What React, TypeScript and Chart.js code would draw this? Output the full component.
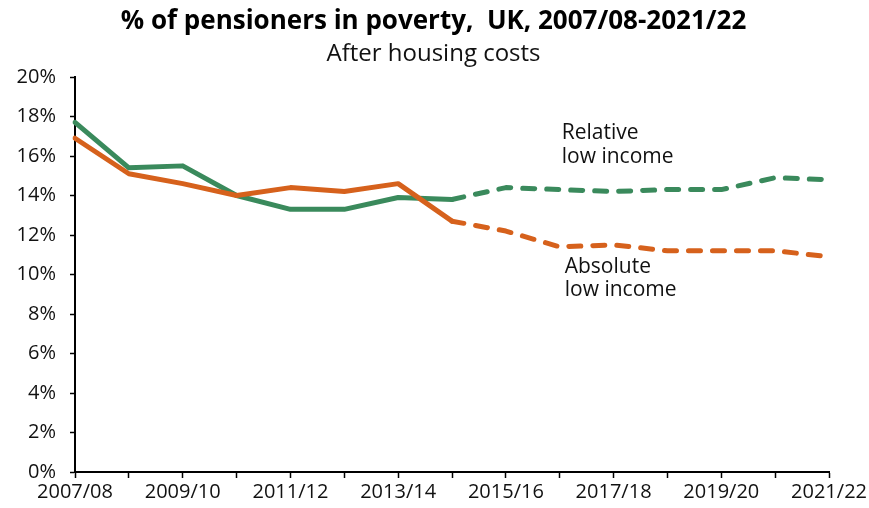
import React, { useEffect, useRef } from 'react';
import { Chart, registerables } from 'chart.js';

Chart.register(...registerables);

const years = [
  '2007/08', '2008/09', '2009/10', '2010/11', '2011/12', '2012/13', '2013/14', '2014/15',
  '2015/16', '2016/17', '2017/18', '2018/19', '2019/20', '2020/21', '2021/22',
];
const relativeLowIncome = [17.7, 15.4, 15.5, 14.0, 13.3, 13.3, 13.9, 13.8, 14.4, 14.3, 14.2, 14.3, 14.3, 14.9, 14.8];
const absoluteLowIncome = [16.9, 15.1, 14.6, 14.0, 14.4, 14.2, 14.6, 12.7, 12.2, 11.4, 11.5, 11.2, 11.2, 11.2, 10.9];
const projectionFromIndex = 7;
const yTickValues = [0, 2, 4, 6, 8, 10, 12, 14, 16, 18, 20];
const relativeLabel = ['Relative', 'low income'];
const absoluteLabel = ['Absolute', 'low income'];

const GREEN = '#3A8A5C';
const ORANGE = '#D6611C';
const FONT = "'Open Sans', 'Noto Sans', sans-serif";

const labelsPlugin = {
  id: 'seriesLabels',
  afterDatasetsDraw(chart: any) {
    const { ctx, scales } = chart;
    const x = scales.x;
    const y = scales.y;
    ctx.save();
    ctx.fillStyle = '#111';
    ctx.font = `21px ${FONT}`;
    ctx.textAlign = 'left';
    ctx.textBaseline = 'middle';
    const rx = x.getPixelForValue(9) + 2;
    ctx.fillText(relativeLabel[0], rx, y.getPixelForValue(17.15));
    ctx.fillText(relativeLabel[1], rx, y.getPixelForValue(15.95));
    const ax = x.getPixelForValue(9) + 5;
    ctx.fillText(absoluteLabel[0], ax, y.getPixelForValue(10.4));
    ctx.fillText(absoluteLabel[1], ax, y.getPixelForValue(9.2));
    ctx.restore();
  },
};

const dash = (ctx: any) => (ctx.p0DataIndex >= projectionFromIndex ? [12, 12] : undefined);

export default function App() {
  const ref = useRef<HTMLCanvasElement | null>(null);
  useEffect(() => {
    document.body.style.margin = '0';
    const canvas = ref.current;
    if (!canvas) return;
    const chart = new Chart(canvas, {
      type: 'line',
      data: {
        labels: years,
        datasets: [
          {
            label: 'Absolute low income',
            data: absoluteLowIncome,
            borderColor: ORANGE,
            backgroundColor: ORANGE,
            borderWidth: 5,
            pointRadius: 0,
            tension: 0,
            borderCapStyle: 'round',
            borderJoinStyle: 'round',
            segment: { borderDash: dash },
          },
          {
            label: 'Relative low income',
            data: relativeLowIncome,
            borderColor: GREEN,
            backgroundColor: GREEN,
            borderWidth: 5,
            pointRadius: 0,
            tension: 0,
            borderCapStyle: 'round',
            borderJoinStyle: 'round',
            segment: { borderDash: dash },
          },
        ],
      },
      options: {
        animation: false,
        responsive: false,
        maintainAspectRatio: false,
        layout: { padding: { top: 0, right: 2, bottom: 2, left: 0 } },
        plugins: {
          legend: { display: false },
          tooltip: { enabled: false },
          title: {
            display: true,
            text: '% of pensioners in poverty,  UK, 2007/08-2021/22',
            color: '#000',
            font: { family: FONT, size: 26, weight: 'bold' },
            padding: { top: 6, bottom: 3 },
          },
          subtitle: {
            display: true,
            text: 'After housing costs',
            color: '#111',
            font: { family: FONT, size: 24, weight: 'normal' },
            padding: { top: 0, bottom: 8 },
          },
        },
        scales: {
          x: {
            type: 'category',
            offset: false,
            grid: {
              display: true,
              drawOnChartArea: false,
              drawTicks: true,
              tickLength: 6,
              tickColor: '#000',
              tickWidth: 1.5,
              offset: false,
            },
            border: { display: true, color: '#000', width: 2 },
            ticks: {
              autoSkip: false,
              maxRotation: 0,
              minRotation: 0,
              color: '#111',
              padding: 2,
              font: { family: FONT, size: 20 },
              callback: (_v: any, i: number) => (i % 2 === 0 ? years[i] : ''),
            },
          },
          y: {
            min: 0,
            max: 20,
            afterFit: (scale: any) => {
              scale.width = 75;
            },
            afterBuildTicks: (scale: any) => {
              scale.ticks = yTickValues.map((v) => ({ value: v }));
            },
            grid: {
              display: true,
              drawOnChartArea: false,
              drawTicks: true,
              tickLength: 5,
              tickColor: '#000',
              tickWidth: 1.5,
            },
            border: { display: true, color: '#000', width: 2 },
            ticks: {
              color: '#111',
              padding: 14,
              font: { family: FONT, size: 20 },
              callback: (v: any) => `${v}%`,
            },
          },
        },
      },
      plugins: [labelsPlugin],
    });
    return () => chart.destroy();
  }, []);
  return (
    <div style={{ width: 869, height: 508, background: '#fff' }}>
      <canvas ref={ref} width={869} height={508} style={{ display: 'block' }} />
    </div>
  );
}
